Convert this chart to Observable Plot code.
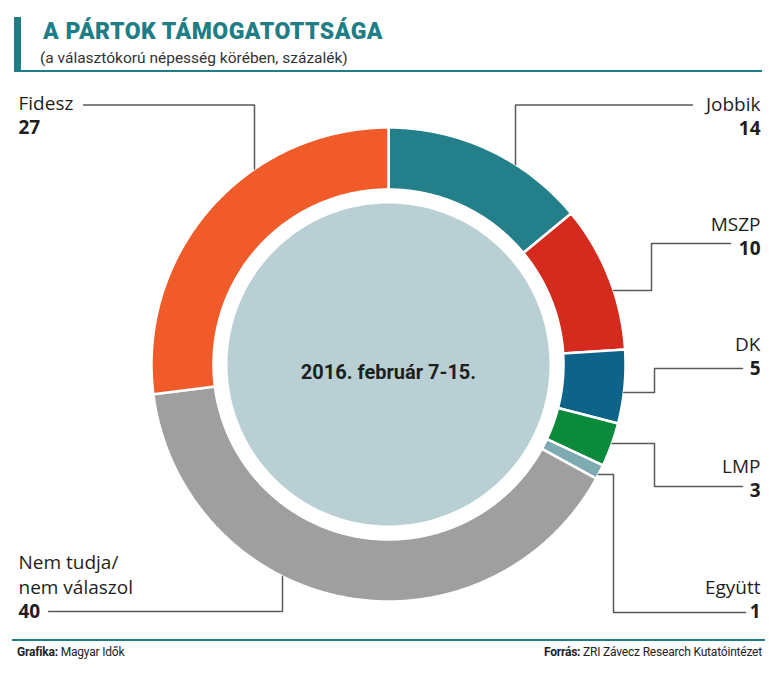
<!DOCTYPE html>
<html><head><meta charset="utf-8">
<script src="https://cdn.jsdelivr.net/npm/d3@7"></script>
<script src="https://cdn.jsdelivr.net/npm/@observablehq/plot@0.6"></script>
<style>
html,body{margin:0;padding:0;background:#fff}
body{width:780px;height:676px;position:relative;overflow:hidden;font-family:Roboto,sans-serif}
#bar{position:absolute;left:14px;top:17px;width:7px;height:55px;background:#1f7d86}
#rule{position:absolute;left:14px;top:70px;width:748px;height:2px;background:#1f7d86}
#title{position:absolute;left:43px;top:20px;font:900 23px/23px Roboto;letter-spacing:0.5px;color:#1f7d86;white-space:nowrap}
#sub{position:absolute;left:40px;top:51px;font:400 15.5px/15.5px Roboto;color:#333;white-space:nowrap}
#chart{position:absolute;left:0;top:75px}
#frule{position:absolute;left:12px;top:639px;width:753px;height:2px;background:#1f7d86}
#fl{position:absolute;left:17px;top:646px;font:400 12px/12px Roboto;color:#222;letter-spacing:-0.2px;white-space:nowrap}
#fr{position:absolute;right:18px;top:646px;font:400 12px/12px Roboto;color:#222;letter-spacing:-0.2px;white-space:nowrap}
</style></head>
<body>
<div id="bar"></div>
<div id="title">A PÁRTOK TÁMOGATOTTSÁGA</div>
<div id="sub">(a választókorú népesség körében, százalék)</div>
<div id="rule"></div>
<div id="chart"></div>
<div id="frule"></div>
<div id="fl"><b>Grafika:</b> Magyar Idők</div>
<div id="fr"><b>Forrás:</b> ZRI Závecz Research Kutatóintézet</div>
<script>
// ---- data ----
const parties = ["Jobbik", "MSZP", "DK", "LMP", "Együtt", "Nem tudja/\nnem válaszol", "Fidesz"];
const values = [14, 10, 5, 3, 1, 40, 27];
const colors = ["#23808a", "#d52b1e", "#0d6388", "#0b8a3c", "#7eaab2", "#a09f9f", "#f15a29"];
const centerLabel = "2016. február 7-15.";

// ---- layout (page pixels) ----
const CX = 388, CY = 364, R = 237, SVG_TOP = 75, SVG_H = 555;
const INNER = 175 / R, DISK = 161 / R;
const X = px => (px - CX) / R;
const Y = py => (CY - py) / R;
// label anchors: [x, name baseline, value baseline, text-anchor]
const labelPos = [
  [760, 110, 134, "end"],
  [760, 230, 254, "end"],
  [760, 350, 374, "end"],
  [760, 472, 496, "end"],
  [760, 593, 617, "end"],
  [18, 593, 617, "start"],
  [18, 109, 133, "start"]
];
// leader polylines (page px) ending towards the ring: last element says direction
const leaderPos = [
  [[[692, 104.5], [515, 104.5]], "v-top"],
  [[[730, 243], [651, 243], [651, 290]], "h-right"],
  [[[742, 368], [654, 368], [654, 392]], "h-right"],
  [[[742, 486], [654, 486], [654, 443]], "h-right"],
  [[[745, 612], [613, 612], [613, 474]], "h-right"],
  [[[48, 611], [282, 611]], "v-bottom"],
  [[[83, 104.5], [254, 104.5]], "v-top"]
];

// ---- geometry in data units ----
const arcs = d3.pie().sort(null).value(d => d)(values);
const slices = [];
arcs.forEach((a, i) => {
  const n = Math.max(4, Math.ceil((a.endAngle - a.startAngle) / 0.01));
  for (let k = 0; k <= n; k++) {
    const t = a.startAngle + (a.endAngle - a.startAngle) * k / n;
    slices.push({party: parties[i], x: Math.sin(t), y: Math.cos(t)});
  }
  for (let k = n; k >= 0; k--) {
    const t = a.startAngle + (a.endAngle - a.startAngle) * k / n;
    slices.push({party: parties[i], x: INNER * Math.sin(t), y: INNER * Math.cos(t)});
  }
});
const disk = d3.range(0, 361, 2).map(deg => ({x: DISK * Math.sin(deg * Math.PI / 180), y: DISK * Math.cos(deg * Math.PI / 180)}));

const leaders = [];
leaderPos.forEach(([pts, dir], i) => {
  pts.forEach(([px, py]) => leaders.push({party: parties[i], x: X(px), y: Y(py)}));
  const [lx, ly] = pts[pts.length - 1];
  if (dir.startsWith("v")) {
    const x = X(lx), y = Math.sqrt(1 - x * x) * (dir === "v-top" ? 1 : -1);
    leaders.push({party: parties[i], x, y});
  } else {
    const y = Y(ly), x = Math.sqrt(1 - y * y);
    leaders.push({party: parties[i], x, y});
  }
});

const labels = parties.map((p, i) => ({name: p, value: String(values[i]), x: X(labelPos[i][0]), yn: Y(labelPos[i][1]), yv: Y(labelPos[i][2]), anchor: labelPos[i][3]}));
const left = labels.filter(d => d.anchor === "start");
const right = labels.filter(d => d.anchor === "end");

const font = "'Open Sans', sans-serif";
const chart = Plot.plot({
  width: 780,
  height: SVG_H,
  x: {domain: [-1, 1], range: [CX - R, CX + R], axis: null},
  y: {domain: [-1, 1], range: [CY - SVG_TOP + R, CY - SVG_TOP - R], axis: null},
  color: {domain: parties, range: colors},
  style: {background: "transparent", overflow: "visible"},
  marks: [
    Plot.line(slices, {x: "x", y: "y", z: "party", fill: "party", stroke: "white", strokeWidth: 2.5, curve: "linear-closed"}),
    Plot.line(disk, {x: "x", y: "y", fill: "#b8cfd4", stroke: "none", curve: "linear-closed"}),
    Plot.text([centerLabel], {x: 0, y: Y(378), text: d => d, lineAnchor: "bottom", fontFamily: "Roboto", fontWeight: 700, fontSize: 20, fill: "#1e1e1e"}),
    Plot.line(leaders, {x: "x", y: "y", z: "party", stroke: "#5a5a5a", strokeWidth: 1.5}),
    Plot.text(left, {x: "x", y: "yn", text: "name", textAnchor: "start", lineAnchor: "bottom", lineHeight: 1.3, fontFamily: font, fontSize: 19, fill: "#1e1e1e"}),
    Plot.text(left, {x: "x", y: "yv", text: "value", textAnchor: "start", lineAnchor: "bottom", fontFamily: font, fontWeight: 700, fontSize: 19, fill: "#1e1e1e"}),
    Plot.text(right, {x: "x", y: "yn", text: "name", textAnchor: "end", lineAnchor: "bottom", fontFamily: font, fontSize: 19, fill: "#1e1e1e"}),
    Plot.text(right, {x: "x", y: "yv", text: "value", textAnchor: "end", lineAnchor: "bottom", fontFamily: font, fontWeight: 700, fontSize: 19, fill: "#1e1e1e"})
  ]
});
document.getElementById("chart").appendChild(chart);
</script>
</body></html>
